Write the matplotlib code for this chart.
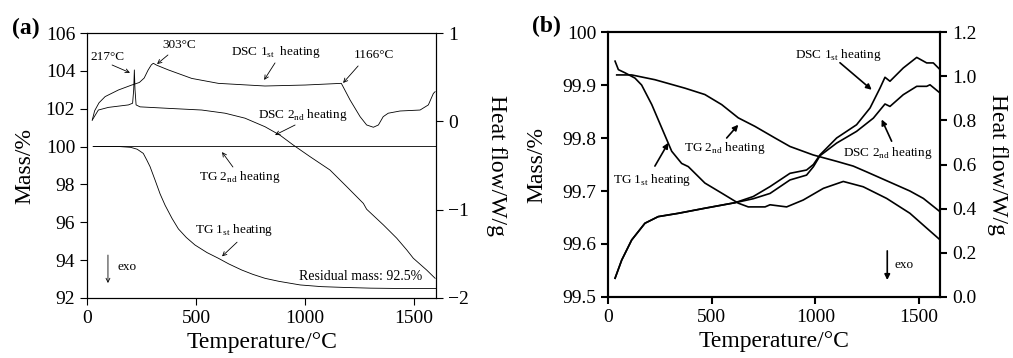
import matplotlib
matplotlib.use('Agg')
import matplotlib.pyplot as plt

plt.rcParams['font.family'] = ['Liberation Serif', 'DejaVu Serif']
plt.rcParams['mathtext.fontset'] = 'custom'
plt.rcParams['mathtext.rm'] = 'Liberation Serif'

# ---- panel (a) ----
a_tg1_t = [28, 150, 200, 230, 258, 274, 289, 312, 335, 358, 390, 419, 455, 495, 550, 602, 650, 709,
           760, 816, 880, 977, 1075, 1175, 1300, 1450, 1600]
a_tg1_m = [100.0, 100.0, 99.96, 99.86, 99.64, 99.29, 98.94, 98.23, 97.5, 96.9, 96.2, 95.65, 95.2, 94.8,
           94.4, 94.1, 93.8, 93.48, 93.25, 93.04, 92.88, 92.69, 92.6, 92.56, 92.52, 92.5, 92.5]
a_tg2_t = [28, 1600]
a_tg2_m = [100.05, 100.05]

a_dsc1_t = [24, 35, 55, 83, 144, 205, 240, 262, 280, 295, 304, 320, 373, 480, 602, 816, 1000, 1166,
            1206, 1252, 1282, 1313, 1336, 1358, 1381, 1435, 1527, 1565, 1588, 1596]
a_dsc1_h = [0.014, 0.12, 0.21, 0.28, 0.355, 0.411, 0.44, 0.49, 0.58, 0.64, 0.657, 0.635, 0.582, 0.486,
            0.43, 0.40, 0.411, 0.43, 0.242, 0.053, -0.041, -0.067, -0.041, 0.053, 0.092, 0.117, 0.128,
            0.186, 0.316, 0.336]
a_dsc2_t = [24, 52, 98, 190, 209, 214, 217, 220, 225, 243, 373, 526, 633, 724, 816, 885, 946, 1022,
            1114, 1191, 1267, 1282, 1359, 1420, 1466, 1496, 1557, 1596]
a_dsc2_h = [0.014, 0.128, 0.158, 0.186, 0.205, 0.357, 0.582, 0.36, 0.186, 0.164, 0.147, 0.128, 0.092, 0.036,
            -0.061, -0.157, -0.269, -0.399, -0.551, -0.74, -0.929, -0.995, -1.173, -1.323, -1.456, -1.55,
            -1.683, -1.777]

# ---- panel (b) ----
b_tg1_t = [34, 50, 82, 130, 162, 211, 259, 307, 355, 387, 467, 548, 628, 676, 757, 781, 861, 941,
           1038, 1134, 1230, 1343, 1455, 1536, 1600]
b_tg1_m = [99.945, 99.929, 99.923, 99.913, 99.90, 99.863, 99.819, 99.775, 99.752, 99.746, 99.715, 99.696,
           99.677, 99.670, 99.670, 99.674, 99.670, 99.683, 99.705, 99.718, 99.708, 99.686, 99.658, 99.63, 99.608]
b_tg2_t = [42, 114, 226, 371, 467, 548, 628, 708, 805, 877, 989, 1102, 1182, 1247, 1455, 1520, 1600]
b_tg2_m = [99.919, 99.919, 99.91, 99.894, 99.882, 99.863, 99.838, 99.822, 99.80, 99.784, 99.768, 99.756,
           99.747, 99.736, 99.70, 99.686, 99.661]

b_dsc1_t = [34, 66, 114, 178, 242, 339, 467, 612, 700, 781, 877, 957, 990, 1022, 1102, 1198, 1263, 1311,
            1335, 1359, 1423, 1488, 1536, 1568, 1600]
b_dsc1_h = [0.085, 0.167, 0.258, 0.334, 0.364, 0.379, 0.402, 0.427, 0.455, 0.50, 0.56, 0.575, 0.60, 0.644,
            0.72, 0.78, 0.856, 0.946, 0.995, 0.977, 1.037, 1.085, 1.06, 1.06, 1.03]
b_dsc2_t = [34, 66, 114, 178, 242, 339, 467, 612, 700, 781, 877, 957, 990, 1022, 1102, 1198, 1279, 1335,
            1359, 1423, 1488, 1536, 1552, 1600]
b_dsc2_h = [0.085, 0.167, 0.258, 0.334, 0.364, 0.379, 0.402, 0.427, 0.445, 0.469, 0.53, 0.552, 0.59, 0.64,
            0.697, 0.75, 0.81, 0.874, 0.863, 0.916, 0.954, 0.954, 0.961, 0.924]

x_ticks = [0, 500, 1000, 1500]
a_left_ticks = [92, 94, 96, 98, 100, 102, 104, 106]
a_right_ticks = [-2, -1, 0, 1]
b_left_ticks = [99.5, 99.6, 99.7, 99.8, 99.9, 100]
b_right_ticks = [0.0, 0.2, 0.4, 0.6, 0.8, 1.0, 1.2]

fig = plt.figure(figsize=(10.13, 3.58), dpi=100)
ax_a = fig.add_axes([0.0859, 0.1676, 0.3445, 0.7402])
ax_b = fig.add_axes([0.6002, 0.1704, 0.3277, 0.7402])


def style_axes(ax, ax2, lw):
    for a in (ax, ax2):
        for s in a.spines.values():
            s.set_linewidth(lw)
        a.tick_params(direction='out', length=5, width=lw, labelsize=14)
    ax.set_xlabel('Temperature/°C', fontsize=17, labelpad=4)
    ax.set_ylabel('Mass/%', fontsize=17, va='center')
    ax2.set_ylabel('Heat flow/W/g', fontsize=17, rotation=270, va='center')


def note(ax, text, pos, tail, head, lw, style='->', scale=7, size=9.5):
    ax.text(pos[0], pos[1], text, ha='center', va='center', fontsize=size)
    ax.annotate('', xy=head, xytext=tail,
                arrowprops=dict(arrowstyle=style, lw=lw, color='black', shrinkA=0, shrinkB=0,
                                mutation_scale=scale))


# panel (a)
ax_a2 = ax_a.twinx()
ax_a.plot(a_tg1_t, a_tg1_m, color='black', lw=0.6)
ax_a.plot(a_tg2_t, a_tg2_m, color='black', lw=0.6)
ax_a2.plot(a_dsc1_t, a_dsc1_h, color='black', lw=0.6)
ax_a2.plot(a_dsc2_t, a_dsc2_h, color='black', lw=0.6)
ax_a.set_xlim(0, 1600)
ax_a.set_ylim(92, 106)
ax_a2.set_ylim(-2, 1)
ax_a.set_xticks(x_ticks)
ax_a.set_yticks(a_left_ticks)
ax_a2.set_yticks(a_right_ticks)
style_axes(ax_a, ax_a2, 0.8)
ax_a.yaxis.set_label_coords(-0.178, 0.5)
ax_a2.yaxis.set_label_coords(1.172, 0.5)

note(ax_a, '217°C', (92, 104.73), (115, 104.31), (197, 103.9), 0.6)
note(ax_a, '303°C', (422, 105.37), (371, 104.84), (321, 104.36), 0.6)
note(ax_a, r'DSC 1$_{\rm st}$  heating', (867, 105.0), (862, 104.42), (812, 103.52), 0.6)
note(ax_a, '1166°C', (1316, 104.84), (1243, 104.26), (1174, 103.36), 0.6)
note(ax_a, r'DSC 2$_{\rm nd}$ heating', (990, 101.67), (954, 101.14), (862, 100.61), 0.6)
note(ax_a, r'TG 2$_{\rm nd}$ heating', (702, 98.39), (669, 98.92), (619, 99.71), 0.6)
note(ax_a, r'TG 1$_{\rm st}$ heating', (674, 95.6), (688, 94.95), (619, 94.2), 0.6)
ax_a.annotate('', xy=(96, 92.79), xytext=(96, 94.27),
              arrowprops=dict(arrowstyle='->', lw=0.6, color='black', shrinkA=0, shrinkB=0,
                              mutation_scale=7))
ax_a.text(138, 93.64, 'exo', ha='left', va='center', fontsize=9.5)
ax_a.text(1536, 93.16, 'Residual mass: 92.5%', ha='right', va='center', fontsize=10)

# panel (b)
ax_b2 = ax_b.twinx()
ax_b.plot(b_tg1_t, b_tg1_m, color='black', lw=1.2)
ax_b.plot(b_tg2_t, b_tg2_m, color='black', lw=1.2)
ax_b2.plot(b_dsc1_t, b_dsc1_h, color='black', lw=1.2)
ax_b2.plot(b_dsc2_t, b_dsc2_h, color='black', lw=1.2)
ax_b.set_xlim(0, 1600)
ax_b.set_ylim(99.5, 100)
ax_b2.set_ylim(0, 1.2)
ax_b.set_xticks(x_ticks)
ax_b.set_yticks(b_left_ticks)
ax_b.set_yticklabels(['99.5', '99.6', '99.7', '99.8', '99.9', '100'])
ax_b2.set_yticks(b_right_ticks)
ax_b2.set_yticklabels(['%.1f' % v for v in b_right_ticks])
style_axes(ax_b, ax_b2, 1.5)
ax_b.yaxis.set_label_coords(-0.214, 0.5)
ax_b2.yaxis.set_label_coords(1.172, 0.5)

note(ax_b, r'DSC 1$_{\rm st}$ heating', (1108, 99.957), (1118, 99.942), (1271, 99.891), 1.2, '-|>', 8)
note(ax_b, r'DSC 2$_{\rm nd}$ heating', (1349, 99.772), (1367, 99.794), (1319, 99.835), 1.2, '-|>', 8)
note(ax_b, r'TG 2$_{\rm nd}$ heating', (564, 99.781), (572, 99.80), (628, 99.825), 1.2, '-|>', 8)
note(ax_b, r'TG 1$_{\rm st}$ heating', (211, 99.721), (226, 99.747), (291, 99.791), 1.2, '-|>', 8)
ax_b.annotate('', xy=(1346, 99.532), xytext=(1346, 99.587),
              arrowprops=dict(arrowstyle='-|>', lw=1.2, color='black', shrinkA=0, shrinkB=0,
                              mutation_scale=8))
ax_b.text(1383, 99.56, 'exo', ha='left', va='center', fontsize=9.5)

fig.text(26 / 1013, 1 - 28 / 358, '(a)', fontsize=17, fontweight='bold', ha='center', va='center')
fig.text(546 / 1013, 1 - 26 / 358, '(b)', fontsize=17, fontweight='bold', ha='center', va='center')

fig.savefig('out.png', dpi=100)
